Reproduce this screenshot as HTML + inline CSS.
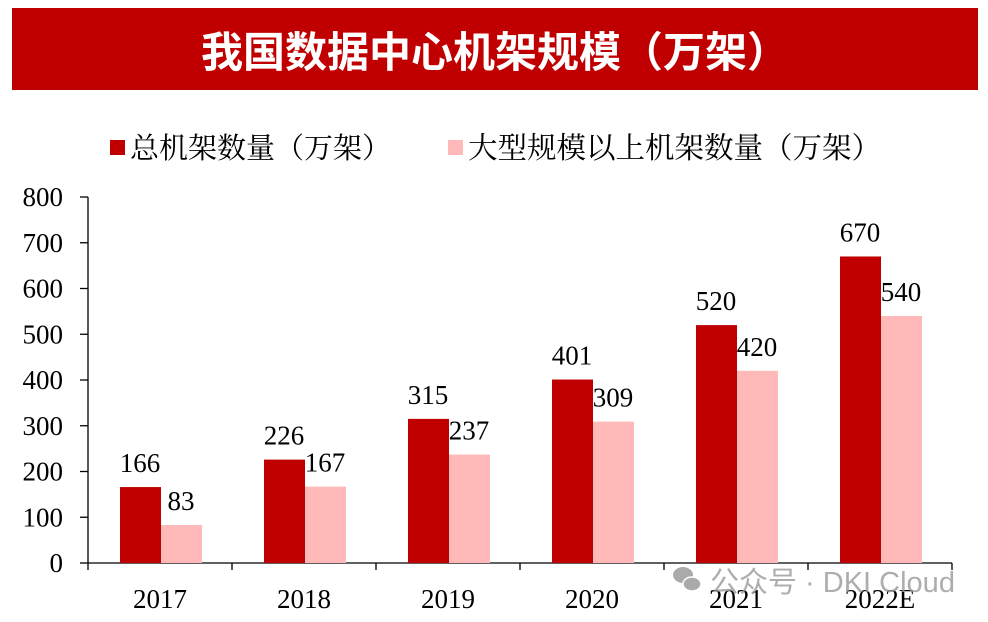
<!DOCTYPE html>
<html><head><meta charset="utf-8"><style>
body{margin:0;background:#fff;width:988px;height:622px;overflow:hidden;position:relative}
.t{position:absolute;left:12px;top:8px;width:966px;height:82px;background:#C00000;color:#fff;font:bold 42px "Liberation Sans","Noto Sans CJK SC",sans-serif;display:flex;align-items:center;justify-content:center}
</style></head><body>
<div class="t">我国数据中心机架规模（万架）</div>
<svg id="c" width="988" height="622" style="position:absolute;left:0;top:0"></svg>
<script>
const categories=["2017","2018","2019","2020","2021","2022E"];
const totalRacks=[166,226,315,401,520,670];
const largeRacks=[83,167,237,309,420,540];
const yTicks=[0,100,200,300,400,500,600,700,800];
const svg=document.getElementById('c');
const NS='http://www.w3.org/2000/svg';
const x0=88,gw=144,yb=563,yt=197,ymax=800;
const y=v=>yb-(v/ymax)*(yb-yt);
const gx=i=>x0+gw*i+gw/2;
function mk(t,a,txt){const e=document.createElementNS(NS,t);for(const k in a)e.setAttribute(k,a[k]);if(txt!==undefined)e.textContent=txt;svg.appendChild(e);return e;}
const serif='"Liberation Serif","Noto Serif CJK SC",serif';
let e;
e=mk('line',{x1:x0,y1:yt,x2:x0,y2:yb,stroke:'#000','stroke-width':1.3});


e=mk('line',{x1:x0,y1:yb,x2:x0+gw*6,y2:yb,stroke:'#000','stroke-width':1.3});


yTicks.forEach(v=>{
 mk('line',{x1:x0-8,y1:y(v),x2:x0,y2:y(v),stroke:'#000','stroke-width':1.3});
 e=mk('text',{x:63,y:y(v)+9,'text-anchor':'end','font-family':serif,'font-size':27},String(v));
 
 
});
for(let i=0;i<=6;i++)mk('line',{x1:x0+gw*i,y1:yb,x2:x0+gw*i,y2:yb+7,stroke:'#000','stroke-width':1.3});
categories.forEach((c,i)=>{
 const cx=gx(i);
 e=mk('text',{x:cx,y:608,'text-anchor':'middle','font-family':serif,'font-size':27},c);
 
 
 e=mk('rect',{x:cx-40,y:y(totalRacks[i]),width:41,height:yb-y(totalRacks[i]),fill:'#C00000'});
 
 
 e=mk('rect',{x:cx+1,y:y(largeRacks[i]),width:41,height:yb-y(largeRacks[i]),fill:'#FFB9B9'});
 
 
 e=mk('text',{x:cx-20,y:y(totalRacks[i])-15,'text-anchor':'middle','font-family':serif,'font-size':27},String(totalRacks[i]));
 
 
 e=mk('text',{x:cx+21,y:y(largeRacks[i])-15,'text-anchor':'middle','font-family':serif,'font-size':27},String(largeRacks[i]));
 
 
});
const sans='"Liberation Sans","Noto Sans CJK SC",sans-serif';
e=mk('rect',{x:110,y:140,width:15,height:15,fill:'#C00000'});


e=mk('text',{x:130,y:158,'font-family':'"Noto Serif CJK SC",serif','font-size':29},'总机架数量（万架）');


e=mk('rect',{x:448,y:140,width:15,height:15,fill:'#FFB9B9'});


e=mk('text',{x:468,y:158,'font-family':'"Noto Serif CJK SC",serif','font-size':29.5},'大型规模以上机架数量（万架）');


e=mk('text',{x:710,y:592,'font-family':sans,'font-size':29,fill:'#999','fill-opacity':0.8},'公众号 · DKI Cloud');


mk('ellipse',{cx:683,cy:575,rx:10,ry:8,fill:'#aaa'});
mk('ellipse',{cx:692,cy:584,rx:9,ry:7,fill:'#aaa',stroke:'#fff','stroke-width':1.5});
</script>
</body></html>
